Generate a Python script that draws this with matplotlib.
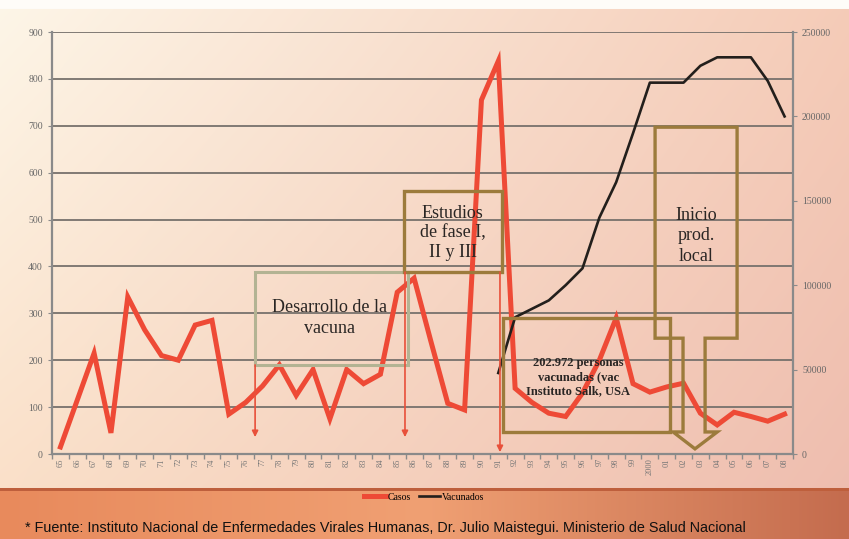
import matplotlib
matplotlib.use("Agg")
import matplotlib.pyplot as plt
import numpy as np
from matplotlib.patches import Rectangle, Polygon

# data
years = ["65", "66", "67", "68", "69", "70", "71", "72", "73", "74", "75", "76",
         "77", "78", "79", "80", "81", "82", "83", "84", "85", "86", "87", "88",
         "89", "90", "91", "92", "93", "94", "95", "96", "97", "98", "99", "2000",
         "01", "02", "03", "04", "05", "06", "07", "08"]
casos = [15, 115, 215, 45, 335, 265, 210, 200, 275, 285, 85, 110,
         145, 190, 125, 180, 75, 180, 150, 170, 345, 375, 240, 108,
         94, 755, 838, 140, 110, 87, 80, 130, 200, 290, 150, 132,
         143, 151, 87, 62, 89, 80, 70, 85]
vac_years = ["91", "92", "93", "94", "95", "96", "97", "98", "99", "2000",
             "01", "02", "03", "04", "05", "06", "07", "08"]
vacunados = [48000, 81000, 86000, 91000, 100000, 110000, 140000, 161000, 190000, 220000,
             220000, 220000, 230000, 235000, 235000, 235000, 221000, 200000]

W, H = 849, 539
fig = plt.figure(figsize=(W / 100, H / 100), dpi=100)

# background: peach gradient on top, orange band at bottom
bg = fig.add_axes([0, 0, 1, 1], zorder=-10)
yy, xx = np.mgrid[0:1:H * 1j, 0:1:W * 1j]
tl, tr = np.array([253, 246, 232]), np.array([245, 204, 184])
bl, br = np.array([250, 222, 198]), np.array([238, 188, 174])
img = (tl * ((1 - xx) * (1 - yy))[..., None] + tr * (xx * (1 - yy))[..., None]
       + bl * ((1 - xx) * yy)[..., None] + br * (xx * yy)[..., None])
img[:9] = [254, 252, 248]
band = 488
bx = xx[band:]
left_c, mid_c, right_c = np.array([232, 138, 92]), np.array([240, 160, 115]), np.array([196, 108, 78])
t = bx[..., None]
img[band:] = np.where(t < 0.5, left_c + (mid_c - left_c) * (t / 0.5),
                      mid_c + (right_c - mid_c) * ((t - 0.5) / 0.5))
img[band:band + 3] = [190, 95, 60]
bg.imshow(img.astype(np.uint8), aspect="auto", extent=[0, 1, 0, 1])
bg.axis("off")

ax = fig.add_axes([52 / W, 1 - 454 / H, 741 / W, 422 / H])
ax.set_facecolor("none")
x = np.arange(len(years))
ax.plot(x, casos, color="#ee4a36", lw=3.6, solid_joinstyle="miter", zorder=3, label="Casos")
ax.set_xlim(-0.5, len(years) - 0.5)
ax.set_ylim(0, 900)
ax.set_yticks(range(0, 901, 100))
ax.grid(axis="y", color="#77716c", lw=1.3)
ax.set_axisbelow(True)
ax.set_xticks(x)
ax.set_xticklabels(years, rotation=90, fontsize=6, color="#777777", family="Liberation Serif")
ax.set_xticks(np.arange(-0.5, len(years), 1), minor=True)
ax.tick_params(axis="x", which="major", length=0, pad=3)
ax.tick_params(axis="x", which="minor", length=3.5, color="#8a8a8a", width=1)
ax.tick_params(axis="y", length=3, color="#8a8a8a", labelsize=7, labelcolor="#666666")
for lab in ax.get_yticklabels():
    lab.set_family("Liberation Serif")
for s in ["left", "bottom"]:
    ax.spines[s].set_color("#8a8a8a")
    ax.spines[s].set_linewidth(1.6)
ax.spines["top"].set_visible(False)
ax.spines["right"].set_visible(False)

ax2 = ax.twinx()
ax2.set_facecolor("none")
vx = [years.index(v) for v in vac_years]
ax2.plot(vx, vacunados, color="#231f1c", lw=1.9, zorder=3, label="Vacunados")
ax2.set_ylim(0, 250000)
ax2.set_yticks(range(0, 250001, 50000))
ax2.tick_params(axis="y", length=3, color="#8a8a8a", labelsize=7, labelcolor="#666666")
for lab in ax2.get_yticklabels():
    lab.set_family("Liberation Serif")
ax2.spines["right"].set_color("#8a8a8a")
ax2.spines["right"].set_linewidth(1.6)
for s in ["left", "top", "bottom"]:
    ax2.spines[s].set_visible(False)

# annotation boxes (in category / casos units)
tr_ = ax.transData
sage, brown = "#b3b393", "#9c7b3c"
serif = "Liberation Serif"
ink = "#2a2624"
ax2.add_patch(Rectangle((11.56, 190), 9.08, 198, fill=False, ec=sage, lw=2.2, transform=tr_, zorder=4))
ax2.text(16.0, 290, "Desarrollo de la\nvacuna", transform=tr_, ha="center", va="center",
         fontsize=13, family=serif, color=ink, linespacing=1.35, zorder=5)
ax2.add_patch(Rectangle((20.40, 388), 5.82, 173, fill=False, ec=brown, lw=2.4, transform=tr_, zorder=4))
ax2.text(23.3, 472, "Estudios\nde fase I,\nII y III", transform=tr_, ha="center", va="center",
         fontsize=13, family=serif, color=ink, linespacing=1.2, zorder=5)
ax2.add_patch(Rectangle((26.28, 47), 9.92, 243, fill=False, ec=brown, lw=2.4, transform=tr_, zorder=4))
ax2.text(30.74, 164, "202.972 personas\nvacunadas (vac\nInstituto Salk, USA", transform=tr_,
         ha="center", va="center", fontsize=9, weight="bold", family=serif, color=ink,
         linespacing=1.25, zorder=5)
callout = [(35.31, 697), (40.18, 697), (40.18, 247), (38.28, 247), (38.28, 47), (39.0, 47),
           (37.68, 11), (36.38, 47), (36.97, 47), (36.97, 247), (35.31, 247)]
ax2.add_patch(Polygon(callout, closed=True, fill=False, ec=brown, lw=2.4, transform=tr_, zorder=4))
ax2.text(37.74, 465, "Inicio\nprod.\nlocal", transform=tr_, ha="center", va="center",
         fontsize=13, family=serif, color=ink, linespacing=1.3, zorder=5)

# thin red arrows
for ax_x, y0, y1 in [(11.56, 190, 36), (20.46, 388, 36), (26.1, 388, 4)]:
    ax2.annotate("", xy=(ax_x, y1), xytext=(ax_x, y0), xycoords=tr_, textcoords=tr_,
                 arrowprops=dict(arrowstyle="-|>", color="#e8503a", lw=1.2,
                                 mutation_scale=9, shrinkA=0, shrinkB=0), zorder=5)

h1, l1 = ax.get_legend_handles_labels()
h2, l2 = ax2.get_legend_handles_labels()
fig.legend(h1 + h2, l1 + l2, loc="center", bbox_to_anchor=(0.5, 1 - 497 / H), ncol=2,
           frameon=False, handlelength=2.2, handletextpad=0.2, columnspacing=0.8,
           prop={"family": serif, "size": 7})

fig.text(25 / W, 1 - 528 / H,
         "* Fuente: Instituto Nacional de Enfermedades Virales Humanas, Dr. Julio Maistegui. "
         "Ministerio de Salud Nacional",
         fontsize=10.4, family="Liberation Sans", color="#111111", va="center", ha="left")

fig.savefig("out.png", dpi=100)
